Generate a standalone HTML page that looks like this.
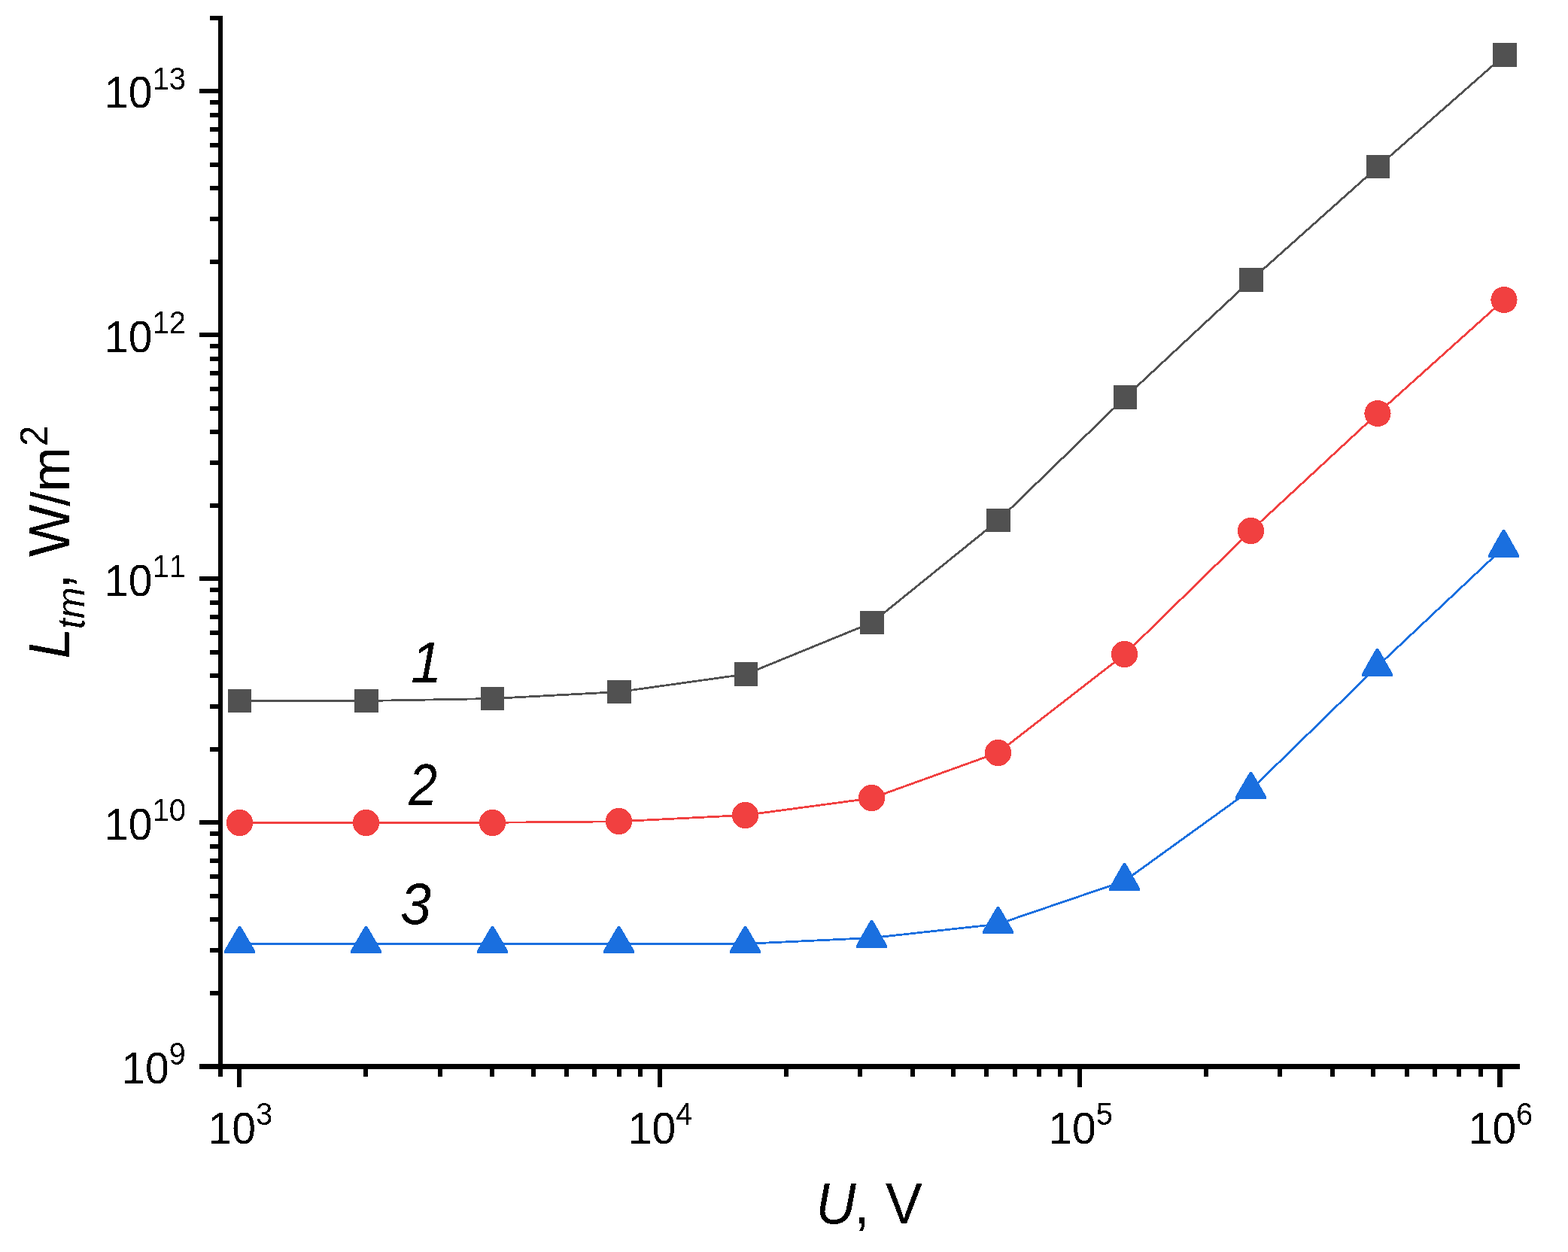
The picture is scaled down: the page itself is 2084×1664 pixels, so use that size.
<!DOCTYPE html>
<html lang="en">
<head>
<meta charset="utf-8">
<title>Ltm (W/m2) versus U (V)</title>
<style>
html,body{margin:0;padding:0;background:#fff;}
body{width:2084px;height:1664px;overflow:hidden;}
svg{display:block;}
text{font-family:"Liberation Sans",Arial,sans-serif;fill:#000;font-kerning:none;}
.tick{font-size:57px;}
.sup{font-size:40px;}
.sub{font-size:50px;}
.sup2{font-size:49px;}
.ttl{font-size:74px;}
.it{font-style:italic;}
</style>
</head>
<body>
<svg width="2084" height="1664" viewBox="0 0 2084 1664">
<defs>
<filter id="crisp" x="-5%" y="-5%" width="110%" height="110%" color-interpolation-filters="sRGB">
<feComponentTransfer><feFuncA type="discrete" tableValues="0 1"/></feComponentTransfer>
</filter>
</defs>
<rect width="2084" height="1664" fill="#fff"/>

<g id="series" shape-rendering="crispEdges">
<polyline points="318.5,931.5 487.0,931.5 654.5,928.5 823.0,919.5 991.5,896.0 1159.0,827.5 1327.0,691.5 1495.5,528.0 1663.0,372.0 1831.5,221.5 2000.0,73.0" fill="none" stroke="#515151" stroke-width="2.8" stroke-linejoin="round"/>
<polyline points="318.5,1093.3 486.5,1093.3 654.5,1093.3 822.5,1091.8 990.5,1083.4 1158.5,1060.9 1326.5,1000.3 1494.5,869.9 1662.5,705.5 1831.0,549.4 1999.0,398.5" fill="none" stroke="#F14040" stroke-width="2.8" stroke-linejoin="round"/>
<polyline points="318.5,1254.4 486.5,1254.4 654.5,1254.4 822.5,1254.4 990.5,1254.4 1158.5,1246.5 1326.5,1228.2 1494.5,1170.9 1662.5,1049.6 1830.5,885.8 1998.5,727.7" fill="none" stroke="#1A6FDF" stroke-width="2.8" stroke-linejoin="round"/>
<g fill="#515151">
<rect x="303" y="916" width="31" height="31"/>
<rect x="471" y="916" width="32" height="31"/>
<rect x="639" y="913" width="31" height="31"/>
<rect x="807" y="904" width="32" height="31"/>
<rect x="976" y="880" width="31" height="32"/>
<rect x="1143" y="812" width="32" height="31"/>
<rect x="1311" y="676" width="32" height="31"/>
<rect x="1480" y="512" width="31" height="32"/>
<rect x="1647" y="356" width="32" height="32"/>
<rect x="1816" y="206" width="31" height="31"/>
<rect x="1984" y="57" width="32" height="32"/>
</g>
<g fill="#F14040">
<circle cx="318.5" cy="1093.5" r="17.6"/>
<circle cx="486.5" cy="1093.5" r="17.6"/>
<circle cx="654.5" cy="1093.5" r="17.6"/>
<circle cx="822.5" cy="1091.5" r="17.6"/>
<circle cx="990.5" cy="1083.5" r="17.6"/>
<circle cx="1158.5" cy="1060.5" r="17.6"/>
<circle cx="1326.5" cy="1000.5" r="17.6"/>
<circle cx="1494.5" cy="869.5" r="17.6"/>
<circle cx="1662.5" cy="705.5" r="17.6"/>
<circle cx="1831.0" cy="549.5" r="17.6"/>
<circle cx="1999.0" cy="398.5" r="17.6"/>
</g>
<g fill="#1A6FDF">
<polygon points="317.0,1231 320.0,1231 339.0,1263.5 339.0,1267 298.0,1267 298.0,1263.5"/>
<polygon points="485.0,1231 488.0,1231 507.0,1263.5 507.0,1267 466.0,1267 466.0,1263.5"/>
<polygon points="653.0,1231 656.0,1231 675.0,1263.5 675.0,1267 634.0,1267 634.0,1263.5"/>
<polygon points="821.0,1231 824.0,1231 843.0,1263.5 843.0,1267 802.0,1267 802.0,1263.5"/>
<polygon points="989.0,1231 992.0,1231 1011.0,1263.5 1011.0,1267 970.0,1267 970.0,1263.5"/>
<polygon points="1157.0,1223 1160.0,1223 1179.0,1256.5 1179.0,1260 1138.0,1260 1138.0,1256.5"/>
<polygon points="1325.0,1205 1328.0,1205 1347.0,1237.5 1347.0,1241 1306.0,1241 1306.0,1237.5"/>
<polygon points="1493.0,1147 1496.0,1147 1515.0,1180.5 1515.0,1184 1474.0,1184 1474.0,1180.5"/>
<polygon points="1661.0,1026 1664.0,1026 1683.0,1058.5 1683.0,1062 1642.0,1062 1642.0,1058.5"/>
<polygon points="1829.0,862 1832.0,862 1851.0,895.5 1851.0,899 1810.0,899 1810.0,895.5"/>
<polygon points="1997.0,704 2000.0,704 2019.0,737.5 2019.0,741 1978.0,741 1978.0,737.5"/>
</g>
</g>
<g id="axes" fill="#000">
<rect x="290" y="21" width="6" height="1410"/>
<rect x="265" y="1414" width="1755" height="7"/>
<rect x="279" y="1317" width="12" height="6"/>
<rect x="279" y="1260" width="12" height="6"/>
<rect x="279" y="1219" width="12" height="6"/>
<rect x="279" y="1188" width="12" height="6"/>
<rect x="279" y="1162" width="12" height="6"/>
<rect x="279" y="1141" width="12" height="6"/>
<rect x="279" y="1122" width="12" height="6"/>
<rect x="279" y="1105" width="12" height="6"/>
<rect x="265" y="1090" width="26" height="6"/>
<rect x="279" y="993" width="12" height="6"/>
<rect x="279" y="936" width="12" height="6"/>
<rect x="279" y="895" width="12" height="6"/>
<rect x="279" y="864" width="12" height="6"/>
<rect x="279" y="838" width="12" height="6"/>
<rect x="279" y="817" width="12" height="6"/>
<rect x="279" y="798" width="12" height="6"/>
<rect x="279" y="781" width="12" height="6"/>
<rect x="265" y="766" width="26" height="6"/>
<rect x="279" y="669" width="12" height="6"/>
<rect x="279" y="612" width="12" height="6"/>
<rect x="279" y="571" width="12" height="6"/>
<rect x="279" y="540" width="12" height="6"/>
<rect x="279" y="514" width="12" height="6"/>
<rect x="279" y="493" width="12" height="6"/>
<rect x="279" y="474" width="12" height="6"/>
<rect x="279" y="457" width="12" height="6"/>
<rect x="265" y="442" width="26" height="6"/>
<rect x="279" y="345" width="12" height="6"/>
<rect x="279" y="288" width="12" height="6"/>
<rect x="279" y="247" width="12" height="6"/>
<rect x="279" y="216" width="12" height="6"/>
<rect x="279" y="190" width="12" height="6"/>
<rect x="279" y="169" width="12" height="6"/>
<rect x="279" y="150" width="12" height="6"/>
<rect x="279" y="133" width="12" height="6"/>
<rect x="265" y="118" width="26" height="6"/>
<rect x="279" y="21" width="12" height="6"/>
<rect x="315" y="1420" width="6" height="25"/>
<rect x="483" y="1420" width="6" height="11"/>
<rect x="582" y="1420" width="6" height="11"/>
<rect x="651" y="1420" width="6" height="11"/>
<rect x="706" y="1420" width="6" height="11"/>
<rect x="750" y="1420" width="6" height="11"/>
<rect x="787" y="1420" width="6" height="11"/>
<rect x="820" y="1420" width="6" height="11"/>
<rect x="848" y="1420" width="6" height="11"/>
<rect x="874" y="1420" width="6" height="25"/>
<rect x="1042" y="1420" width="6" height="11"/>
<rect x="1140" y="1420" width="6" height="11"/>
<rect x="1210" y="1420" width="6" height="11"/>
<rect x="1264" y="1420" width="6" height="11"/>
<rect x="1308" y="1420" width="6" height="11"/>
<rect x="1346" y="1420" width="6" height="11"/>
<rect x="1378" y="1420" width="6" height="11"/>
<rect x="1406" y="1420" width="6" height="11"/>
<rect x="1432" y="1420" width="6" height="25"/>
<rect x="1600" y="1420" width="6" height="11"/>
<rect x="1698" y="1420" width="6" height="11"/>
<rect x="1768" y="1420" width="6" height="11"/>
<rect x="1822" y="1420" width="6" height="11"/>
<rect x="1867" y="1420" width="6" height="11"/>
<rect x="1904" y="1420" width="6" height="11"/>
<rect x="1936" y="1420" width="6" height="11"/>
<rect x="1965" y="1420" width="6" height="11"/>
<rect x="1990" y="1420" width="7" height="25"/>
</g>
<g id="labels" filter="url(#crisp)">
<text class="tick" transform="translate(139.1,142.8) scale(1,1.04)">10<tspan class="sup" dy="-23.1">13</tspan></text>
<text class="tick" transform="translate(139.1,467.8) scale(1,1.04)">10<tspan class="sup" dy="-24.0">12</tspan></text>
<text class="tick" transform="translate(139.1,791.8) scale(1,1.04)">10<tspan class="sup" dy="-24.0">11</tspan></text>
<text class="tick" transform="translate(139.1,1115.8) scale(1,1.04)">10<tspan class="sup" dy="-24.0">10</tspan></text>
<text class="tick" transform="translate(161.2,1439.8) scale(1,1.04)">10<tspan class="sup" dy="-24.0">9</tspan></text>
<text class="tick" transform="translate(276.5,1520.0) scale(1,1.04)">10<tspan class="sup" dy="-24">3</tspan></text>
<text class="tick" transform="translate(834.9,1520.0) scale(1,1.04)">10<tspan class="sup" dy="-24">4</tspan></text>
<text class="tick" transform="translate(1393.3,1520.0) scale(1,1.04)">10<tspan class="sup" dy="-24">5</tspan></text>
<text class="tick" transform="translate(1951.7,1520.0) scale(1,1.04)">10<tspan class="sup" dy="-24">6</tspan></text>
</g>
<g id="titles" filter="url(#crisp)">
<text class="ttl" transform="translate(0.0,1626.0) scale(1,1.04)"><tspan class="it" x="1084.2">U</tspan><tspan x="1135.6">, </tspan><tspan x="1176.7">V</tspan></text>
<text class="ttl" transform="translate(92.0,878.0) rotate(-90) scale(1,1.04)"><tspan class="it" x="2.5">L</tspan><tspan class="it sub" x="42" dy="19.3">tm</tspan><tspan x="94.7" dy="-19.3">, </tspan><tspan x="137.7">W</tspan><tspan x="205.3" font-size="70">/</tspan><tspan x="224.2" font-size="72">m</tspan><tspan class="sup2" x="284.9" dy="-27.9">2</tspan></text>
<text class="ttl it" transform="translate(546.0,907.0) scale(1,1.04)">1</text>
<text class="ttl it" transform="translate(543.3,1070) scale(0.92,1.04)">2</text>
<text class="ttl it" transform="translate(532.0,1228.0) scale(1,1.04)">3</text>
</g>
</svg>
</body>
</html>
